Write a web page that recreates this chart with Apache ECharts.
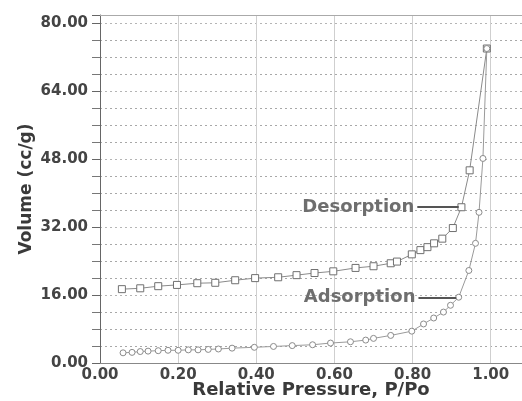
<!DOCTYPE html>
<html>
<head>
<meta charset="utf-8">
<script src="https://cdn.jsdelivr.net/npm/echarts@6/dist/echarts.min.js"></script>
<style>
  html, body { margin: 0; padding: 0; background: #fff; }
  #chart { width: 522px; height: 401px; }
</style>
</head>
<body>
<div id="chart"></div>
<script>
// adsorption branch (circles)
const adsP = [0.059, 0.082, 0.103, 0.123, 0.149, 0.174, 0.2, 0.226, 0.251, 0.277, 0.303, 0.338, 0.395,
  0.444, 0.492, 0.544, 0.59, 0.641, 0.68, 0.7, 0.744, 0.798, 0.828, 0.854, 0.879, 0.897, 0.918,
  0.944, 0.961, 0.97, 0.98, 0.99]
const adsV = [2.4, 2.5, 2.7, 2.8, 2.9, 3.0, 3.0, 3.1, 3.1, 3.2, 3.3, 3.5, 3.7,
  3.9, 4.1, 4.3, 4.7, 5.0, 5.4, 5.8, 6.5, 7.5, 9.2, 10.6, 12.0, 13.6, 15.5,
  21.8, 28.2, 35.5, 48.2, 74.1]

// desorption branch (squares)
const desP = [0.056, 0.103, 0.149, 0.197, 0.249, 0.295, 0.346, 0.397, 0.456, 0.503, 0.549, 0.597,
  0.654, 0.7, 0.744, 0.76, 0.798, 0.82, 0.838, 0.855, 0.876, 0.903, 0.925, 0.946, 0.99]
const desV = [17.4, 17.6, 18.1, 18.4, 18.8, 18.9, 19.5, 20.0, 20.2, 20.7, 21.2, 21.6,
  22.4, 22.8, 23.5, 23.9, 25.6, 26.6, 27.3, 28.2, 29.3, 31.8, 36.7, 45.4, 74.1]

const toPairs = (xs, ys) => xs.map((x, i) => [x, ys[i]])

const chart = echarts.init(document.getElementById('chart'))

const noteLabel = (text) => ({
  show: true,
  position: 'start',
  formatter: text,
  distance: 3,
  color: '#6e6e6e',
  fontFamily: 'DejaVu Sans',
  fontWeight: 'bold',
  fontSize: 18,
})

chart.setOption({
  animation: false,
  grid: { left: 100, right: 0, top: 15, bottom: 38, outerBoundsMode: 'none' },
  xAxis: [
    {
      type: 'value',
      min: 0,
      max: 1.08,
      interval: 0.2,
      name: 'Relative Pressure, P/Po',
      nameLocation: 'middle',
      nameGap: 18,
      nameMoveOverlap: false,
      nameTextStyle: { color: '#3a3a3a', fontFamily: 'DejaVu Sans', fontWeight: 'bold', fontSize: 18 },
      axisLine: { lineStyle: { color: '#888' } },
      axisTick: { show: false },
      axisLabel: {
        showMaxLabel: false,
        margin: 5,
        color: '#444',
        fontFamily: 'DejaVu Sans',
        fontWeight: 'bold',
        fontSize: 15,
        formatter: (v) => v.toFixed(2),
      },
      splitLine: { show: true, lineStyle: { color: '#cfcfcf', width: 1 } },
    },
    {
      type: 'value',
      position: 'top',
      min: 0,
      max: 1.08,
      axisLine: { show: true, lineStyle: { color: '#aaa' } },
      axisTick: { show: false },
      axisLabel: { show: false },
      splitLine: { show: false },
    },
  ],
  yAxis: {
    type: 'value',
    min: 0,
    max: 82,
    interval: 16,
    name: 'Volume (cc/g)',
    nameLocation: 'middle',
    nameGap: 65,
    nameMoveOverlap: false,
    nameTextStyle: { color: '#3a3a3a', fontFamily: 'DejaVu Sans', fontWeight: 'bold', fontSize: 17 },
    axisLine: { show: true, lineStyle: { color: '#666' } },
    axisTick: { show: true, length: 8, lineStyle: { color: '#666' } },
    minorTick: { show: true, splitNumber: 4, length: 8, lineStyle: { color: '#777' } },
    axisLabel: {
      showMaxLabel: false,
      margin: 12,
      color: '#444',
      fontFamily: 'DejaVu Sans',
      fontWeight: 'bold',
      fontSize: 15,
      formatter: (v) => v.toFixed(2),
    },
    splitLine: { show: true, lineStyle: { color: '#b5b5b5', type: [2, 3] } },
    minorSplitLine: { show: true, lineStyle: { color: '#a8a8a8', type: [2, 3] } },
  },
  series: [
    {
      name: 'Desorption',
      type: 'line',
      data: toPairs(desP, desV),
      symbol: 'rect',
      symbolSize: 7,
      itemStyle: { color: '#fff', borderColor: '#707070', borderWidth: 1 },
      lineStyle: { color: '#8a8a8a', width: 1 },
      markLine: {
        silent: true,
        symbol: 'none',
        lineStyle: { color: '#555', width: 2, type: 'solid' },
        label: noteLabel('Desorption'),
        data: [[{ coord: [0.812, 36.7] }, { coord: [0.918, 36.7] }]],
      },
    },
    {
      name: 'Adsorption',
      type: 'line',
      data: toPairs(adsP, adsV),
      symbol: 'circle',
      symbolSize: 6,
      itemStyle: { color: '#fff', borderColor: '#8a8a8a', borderWidth: 1 },
      lineStyle: { color: '#9a9a9a', width: 1 },
      markLine: {
        silent: true,
        symbol: 'none',
        lineStyle: { color: '#555', width: 2, type: 'solid' },
        label: noteLabel('Adsorption'),
        data: [[{ coord: [0.815, 15.4] }, { coord: [0.912, 15.4] }]],
      },
    },
  ],
})
</script>
</body>
</html>
